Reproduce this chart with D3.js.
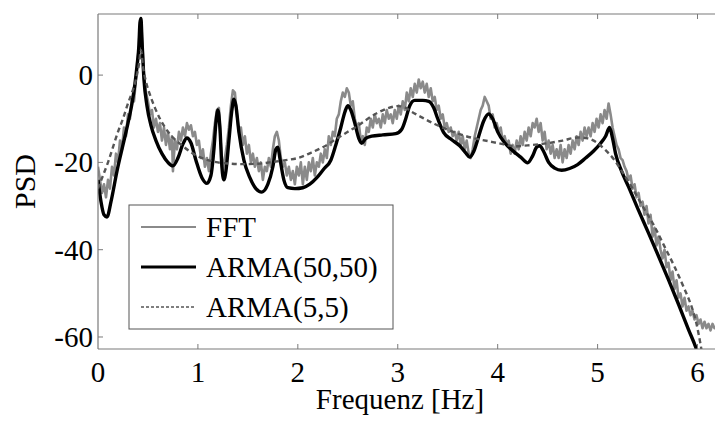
<!DOCTYPE html>
<html>
<head>
<meta charset="utf-8">
<script src="https://cdn.jsdelivr.net/npm/d3@7"></script>
<style>
  html, body { margin: 0; padding: 0; background: #fff; }
  #chart { width: 715px; height: 421px; }
  text { font-family: "Liberation Serif", "Times New Roman", serif; fill: #000; }
</style>
</head>
<body>
<div id="chart"></div>
<script>
// PSD estimates: raw FFT periodogram against two ARMA fits.
var xTicks = [0, 1, 2, 3, 4, 5, 6];
var yTicks = [0, -20, -40, -60];

var seriesNames = ['FFT', 'ARMA(50,50)', 'ARMA(5,5)'];

// [frequency Hz, PSD dB]
var fft = [
  [0.00,-21],[0.02,-24],[0.04,-27],[0.06,-25],[0.08,-28],[0.10,-24],[0.12,-26],[0.14,-21],
  [0.16,-23],[0.18,-18],[0.20,-20],[0.22,-15],[0.24,-17],[0.26,-12],[0.28,-14],[0.30,-9],
  [0.32,-10],[0.34,-5],[0.36,-6],[0.38,-1],[0.40,4],[0.42,11],[0.43,13],[0.44,9],[0.46,0],
  [0.48,-4],[0.50,-6],[0.52,-9],[0.54,-8],[0.56,-12],[0.58,-10],[0.60,-13],[0.62,-11],
  [0.64,-15],[0.66,-12],[0.68,-16],[0.70,-13],[0.72,-17],[0.74,-14],[0.75,-22],[0.77,-15],
  [0.79,-17],[0.81,-13],[0.83,-15],[0.85,-12],[0.87,-14],[0.89,-11],[0.91,-12.5],[0.93,-11.5],
  [0.95,-14],[0.97,-13],[0.99,-16],[1.01,-15],[1.03,-19],[1.05,-17],[1.07,-21],[1.09,-19],
  [1.11,-22],[1.13,-18],[1.15,-15],[1.17,-11],[1.19,-8],[1.21,-7.5],[1.23,-16],[1.25,-22],
  [1.27,-19],[1.29,-16],[1.31,-12],[1.33,-7],[1.35,-3.5],[1.37,-4],[1.39,-9],[1.41,-13],
  [1.43,-12],[1.45,-16],[1.47,-14],[1.49,-18],[1.51,-16],[1.53,-20],[1.55,-18],[1.57,-21],
  [1.59,-19],[1.61,-22],[1.63,-20],[1.65,-24],[1.67,-21],[1.69,-22],[1.71,-19],[1.73,-21],
  [1.75,-17],[1.77,-14],[1.79,-13],[1.81,-15],[1.83,-19],[1.85,-21],[1.87,-20],[1.89,-23],
  [1.91,-21],[1.93,-24],[1.95,-22],[1.97,-25],[1.99,-21],[2.01,-23],[2.03,-20],[2.05,-25],
  [2.07,-21],[2.09,-24],[2.11,-20],[2.13,-22],[2.15,-19],[2.17,-23],[2.19,-20],[2.21,-21],
  [2.23,-18],[2.25,-20],[2.27,-17],[2.29,-19],[2.31,-14],[2.33,-16],[2.35,-13],[2.37,-14],
  [2.39,-10],[2.41,-9],[2.43,-6],[2.45,-4],[2.47,-5],[2.49,-3],[2.51,-4],[2.53,-7],
  [2.55,-6],[2.57,-10],[2.59,-12],[2.61,-11],[2.63,-15],[2.65,-14],[2.67,-16],[2.69,-12],
  [2.71,-13],[2.73,-10],[2.75,-12],[2.77,-9],[2.79,-11],[2.81,-10],[2.83,-12],[2.85,-9],
  [2.87,-11],[2.89,-8],[2.91,-10],[2.93,-9],[2.95,-11],[2.97,-8],[2.99,-10],[3.01,-7],
  [3.03,-9],[3.05,-6],[3.07,-8],[3.09,-4],[3.11,-6],[3.13,-3],[3.15,-5],[3.17,-2],
  [3.19,-4],[3.21,-1],[3.23,-3],[3.25,-1.5],[3.27,-4],[3.29,-2],[3.31,-5],[3.33,-3],
  [3.35,-6],[3.37,-5],[3.39,-8],[3.41,-7],[3.43,-10],[3.45,-9],[3.47,-12],[3.49,-11],
  [3.51,-13],[3.53,-12],[3.55,-14],[3.57,-13],[3.59,-15],[3.61,-13],[3.63,-16],[3.65,-14],
  [3.67,-17],[3.69,-15],[3.71,-18],[3.73,-19],[3.75,-17],[3.77,-14],[3.79,-12],[3.81,-10],
  [3.83,-8],[3.85,-7],[3.87,-5],[3.89,-6],[3.91,-7],[3.93,-10],[3.95,-9],[3.97,-12],
  [3.99,-11],[4.01,-13],[4.03,-12],[4.05,-15],[4.07,-14],[4.09,-16],[4.11,-15],[4.13,-18],
  [4.15,-16],[4.17,-18],[4.19,-15],[4.21,-17],[4.23,-14],[4.25,-16],[4.27,-13],[4.29,-15],
  [4.31,-12],[4.33,-14],[4.35,-11],[4.37,-12],[4.39,-10],[4.41,-13],[4.43,-11],[4.45,-15],
  [4.47,-13],[4.49,-17],[4.51,-15],[4.53,-18],[4.55,-16],[4.57,-19],[4.59,-17],[4.61,-19],
  [4.63,-16],[4.65,-20],[4.67,-17],[4.69,-19],[4.71,-16],[4.73,-18],[4.75,-15],[4.77,-17],
  [4.79,-14],[4.81,-16],[4.83,-13],[4.85,-15],[4.87,-12],[4.89,-14],[4.91,-12],[4.93,-14],
  [4.95,-11],[4.97,-13],[4.99,-10],[5.01,-12],[5.03,-9],[5.05,-11],[5.07,-8],[5.09,-10],
  [5.11,-6.5],[5.13,-9],[5.15,-12],[5.17,-14],[5.19,-16],[5.21,-17],[5.23,-19],[5.25,-19.5],
  [5.27,-21],[5.29,-22],[5.31,-24],[5.33,-23],[5.35,-26],[5.37,-25],[5.39,-28],[5.41,-27],
  [5.43,-30],[5.45,-29],[5.47,-32],[5.49,-30],[5.51,-34],[5.53,-32],[5.55,-37],[5.57,-35],
  [5.59,-39],[5.61,-37],[5.63,-40],[5.65,-42],[5.67,-40],[5.69,-44],[5.71,-43],[5.73,-47],
  [5.75,-45],[5.77,-49],[5.79,-47],[5.81,-51],[5.83,-50],[5.85,-53],[5.87,-51],[5.89,-54],
  [5.91,-53],[5.93,-55],[5.95,-54],[5.97,-56],[5.99,-55],[6.01,-57],[6.03,-56],[6.05,-58],
  [6.07,-56.5],[6.09,-58],[6.11,-57],[6.13,-58.5],[6.15,-57],[6.17,-58],[6.20,-57.5]
];

var arma50 = [
  [0.00,-24],[0.03,-29],[0.06,-32],[0.09,-32.5],[0.13,-29],[0.19,-22],[0.25,-16],[0.30,-11],
  [0.34,-6.5],[0.37,-2],[0.39,2],[0.41,7],[0.42,12],[0.43,13],[0.44,8],[0.46,-1],[0.49,-7],
  [0.53,-11.5],[0.58,-15],[0.64,-18],[0.70,-20],[0.75,-20.8],[0.80,-19],[0.85,-15.8],
  [0.89,-14.4],[0.93,-15.5],[0.98,-19.5],[1.04,-23.5],[1.09,-24.8],[1.13,-23],[1.16,-17],
  [1.18,-11],[1.20,-8],[1.22,-12],[1.24,-21],[1.26,-24],[1.28,-22],[1.31,-15],[1.34,-8],
  [1.36,-5.5],[1.38,-7],[1.41,-13],[1.46,-19.5],[1.52,-23.5],[1.58,-26],[1.64,-26.8],
  [1.70,-25],[1.75,-21],[1.78,-17],[1.80,-16.5],[1.82,-19],[1.86,-24],[1.90,-25.8],
  [1.97,-26],[2.05,-25.8],[2.12,-25],[2.19,-23.5],[2.26,-21.5],[2.33,-19.5],[2.38,-16],
  [2.43,-12],[2.47,-8.5],[2.50,-7],[2.53,-8],[2.57,-11],[2.61,-14.5],[2.64,-15.6],
  [2.68,-14.5],[2.74,-14],[2.85,-13.7],[2.98,-13.4],[3.04,-12.4],[3.08,-10],[3.12,-7],
  [3.17,-5.8],[3.25,-5.8],[3.31,-6],[3.36,-7.5],[3.40,-10],[3.46,-13.2],[3.54,-14.8],
  [3.62,-16.2],[3.68,-17.8],[3.72,-18.8],[3.76,-17.5],[3.81,-14],[3.86,-10.5],[3.91,-8.9],
  [3.95,-10],[4.00,-13],[4.07,-15.5],[4.15,-17.3],[4.23,-18.8],[4.30,-20.1],[4.35,-18.5],
  [4.39,-16.5],[4.42,-16.2],[4.46,-17.5],[4.51,-20],[4.57,-21.3],[4.64,-21.8],[4.72,-21.4],
  [4.80,-20.5],[4.88,-19],[4.96,-17.4],[5.03,-15.6],[5.08,-14],[5.12,-12],[5.15,-14.5],
  [5.18,-18],[5.24,-22],[5.31,-25.6],[5.41,-31],[5.51,-36.2],[5.61,-41.5],[5.71,-46.9],
  [5.81,-52.5],[5.91,-58.3],[5.98,-62.2],[6.00,-63.5]
];

var arma5 = [
  [0.00,-26],[0.05,-23],[0.10,-20],[0.15,-16.5],[0.20,-13],[0.25,-10],[0.30,-6.5],[0.34,-4],
  [0.38,-1],[0.41,2.5],[0.43,5.7],[0.45,2],[0.48,-1.5],[0.52,-4.5],[0.57,-7.5],[0.62,-10],
  [0.68,-12.3],[0.75,-14.3],[0.83,-15.9],[0.92,-17.5],[1.00,-18.6],[1.10,-19.5],[1.20,-20],
  [1.33,-20.3],[1.45,-20.4],[1.60,-20.3],[1.75,-19.9],[1.90,-19.4],[2.00,-19],[2.13,-17.8],
  [2.26,-16.4],[2.40,-14.4],[2.50,-13],[2.60,-11.6],[2.70,-10],[2.80,-8.6],[2.90,-7.6],
  [3.00,-7.1],[3.07,-7.4],[3.14,-8.4],[3.25,-9.8],[3.37,-11.2],[3.50,-12.5],[3.60,-13.4],
  [3.75,-14.4],[3.90,-15.1],[4.05,-15.8],[4.17,-16.3],[4.30,-16.1],[4.50,-15.6],[4.65,-15],
  [4.80,-14.3],[4.90,-14.5],[5.00,-15.6],[5.08,-17.2],[5.17,-19.5],[5.25,-22.3],[5.34,-25.6],
  [5.45,-30],[5.57,-34.7],[5.67,-39.3],[5.77,-43.9],[5.86,-48.5],[5.94,-53],[5.98,-56],
  [6.01,-59.2],[6.04,-63],[6.06,-66]
];

(function () {
    var W = 715, H = 421;
    var margin = { top: 14, right: -1, bottom: 72, left: 98 };
    var innerW = W - margin.left - margin.right;
    var innerH = H - margin.top - margin.bottom;
    var axisColor = '#7a7a7a';

    var svg = d3.select('#chart').append('svg')
        .attr('width', W).attr('height', H);
    var g = svg.append('g')
        .attr('transform', 'translate(' + margin.left + ',' + margin.top + ')');

    var x = d3.scaleLinear().domain([0, 6.185]).range([0, innerW]);
    var y = d3.scaleLinear().domain([14, -62.75]).range([0, innerH]);

    g.append('clipPath').attr('id', 'plotclip')
        .append('rect').attr('width', innerW).attr('height', innerH);

    var plot = g.append('g').attr('clip-path', 'url(#plotclip)');

    var rough = d3.line()
        .x(function (d) { return x(d[0]); })
        .y(function (d) { return y(d[1]); });
    var smooth = d3.line()
        .x(function (d) { return x(d[0]); })
        .y(function (d) { return y(d[1]); })
        .curve(d3.curveMonotoneX);

    plot.append('path').datum(fft)
        .attr('d', rough).attr('fill', 'none')
        .attr('stroke', '#8a8a8a').attr('stroke-width', 2.6)
        .attr('stroke-linejoin', 'round');
    plot.append('path').datum(arma50)
        .attr('d', smooth).attr('fill', 'none')
        .attr('stroke', '#000').attr('stroke-width', 3.4)
        .attr('stroke-linejoin', 'round');
    plot.append('path').datum(arma5)
        .attr('d', smooth).attr('fill', 'none')
        .attr('stroke', '#555').attr('stroke-width', 2.4)
        .attr('stroke-dasharray', '5 3.5');

    // frame: left, top, bottom (right edge falls outside the picture)
    var tickLen = 5;
    g.append('line').attr('x1', 0).attr('x2', 0).attr('y1', 0).attr('y2', innerH)
        .attr('stroke', axisColor).attr('stroke-width', 1.2);
    g.append('line').attr('x1', 0).attr('x2', innerW).attr('y1', 0).attr('y2', 0)
        .attr('stroke', axisColor).attr('stroke-width', 1.2);
    g.append('line').attr('x1', 0).attr('x2', innerW).attr('y1', innerH).attr('y2', innerH)
        .attr('stroke', axisColor).attr('stroke-width', 1.2);

    xTicks.forEach(function (t) {
        if (t === 0) return;
        g.append('line').attr('x1', x(t)).attr('x2', x(t))
            .attr('y1', innerH).attr('y2', innerH - tickLen)
            .attr('stroke', axisColor).attr('stroke-width', 1);
        g.append('line').attr('x1', x(t)).attr('x2', x(t))
            .attr('y1', 0).attr('y2', tickLen)
            .attr('stroke', axisColor).attr('stroke-width', 1);
    });
    yTicks.forEach(function (t) {
        g.append('line').attr('x1', 0).attr('x2', tickLen)
            .attr('y1', y(t)).attr('y2', y(t))
            .attr('stroke', axisColor).attr('stroke-width', 1);
    });

    g.selectAll('.xl').data(xTicks).enter().append('text')
        .attr('x', function (d) { return x(d); })
        .attr('y', innerH + 33)
        .attr('text-anchor', 'middle')
        .style('font-size', '29px')
        .text(function (d) { return d; });
    g.selectAll('.yl').data(yTicks).enter().append('text')
        .attr('x', -5)
        .attr('y', function (d) { return y(d) + 10; })
        .attr('text-anchor', 'end')
        .style('font-size', '29px')
        .text(function (d) { return d; });

    // axis titles
    svg.append('text')
        .attr('x', 400).attr('y', 409)
        .attr('text-anchor', 'middle')
        .style('font-size', '29px')
        .text('Frequenz [Hz]');
    svg.append('text')
        .attr('transform', 'translate(35,' + (margin.top + innerH / 2) + ') rotate(-90)')
        .attr('text-anchor', 'middle')
        .style('font-size', '30px')
        .text('PSD');

    // legend
    var lg = svg.append('g').attr('transform', 'translate(129,205)');
    lg.append('rect').attr('width', 264).attr('height', 124)
        .attr('fill', '#fff').attr('stroke', '#555').attr('stroke-width', 1);
    var legendStyle = [
        { color: '#8a8a8a', width: 2.2, dash: null },
        { color: '#000', width: 3.2, dash: null },
        { color: '#555', width: 1.6, dash: '3 2' }
    ];
    seriesNames.forEach(function (name, i) {
        var ly = 22 + i * 40;
        var s = legendStyle[i];
        lg.append('line').attr('x1', 12).attr('x2', 67)
            .attr('y1', ly).attr('y2', ly)
            .attr('stroke', s.color).attr('stroke-width', s.width)
            .attr('stroke-dasharray', s.dash);
        lg.append('text').attr('x', 77).attr('y', ly + 10)
            .style('font-size', '29px')
            .text(name);
    });
})();
</script>
</body>
</html>
